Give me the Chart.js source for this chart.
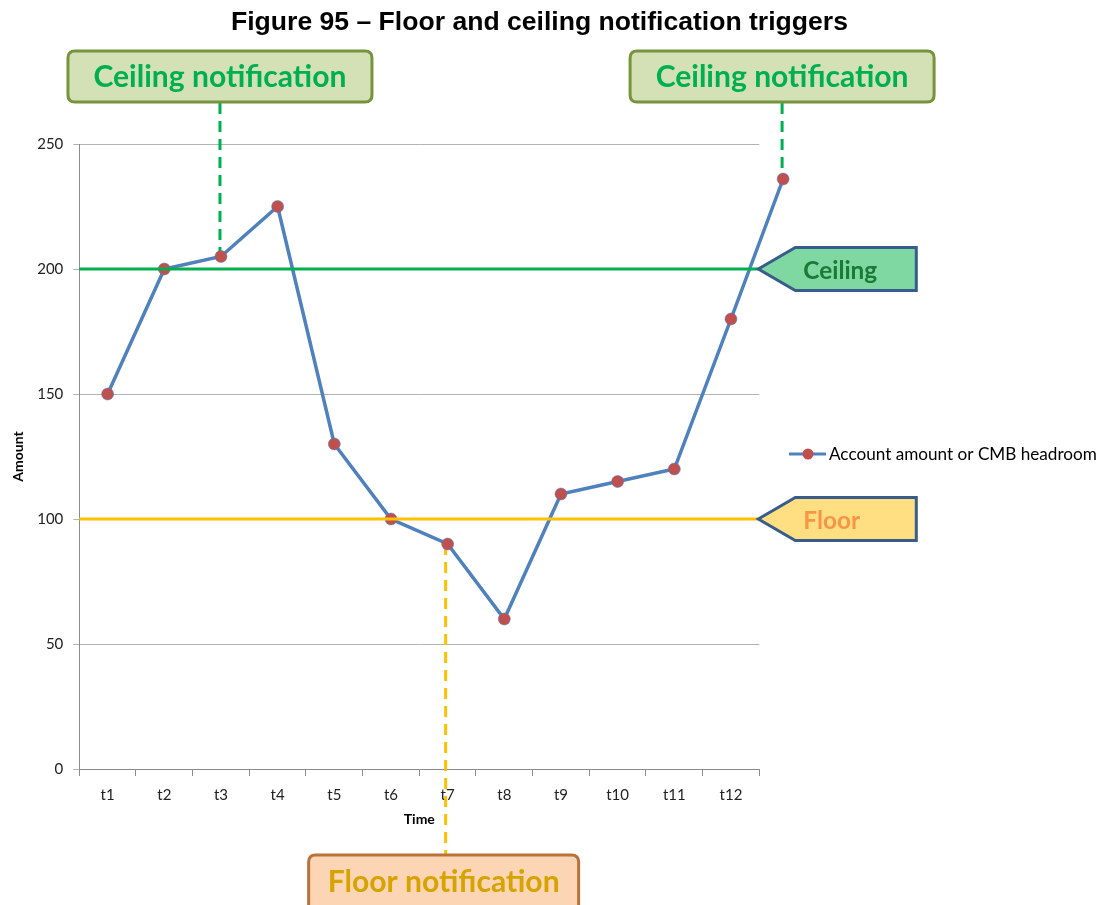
<!DOCTYPE html>
<html>
<head>
<meta charset="utf-8">
<script src="https://cdn.jsdelivr.net/npm/chart.js@4.4.1/dist/chart.umd.min.js"></script>
<style>
  html, body { margin: 0; padding: 0; background: #fff; }
  #wrap { width: 1102px; height: 905px; }
</style>
</head>
<body>
<div id="wrap"><canvas id="chart" width="1102" height="905"></canvas></div>
<script>
'use strict';
// data
const times = ['t1', 't2', 't3', 't4', 't5', 't6', 't7', 't8', 't9', 't10', 't11', 't12'];
const amounts = [150, 200, 205, 225, 130, 100, 90, 60, 110, 115, 120, 180, 236];
const amountPos = [1, 2, 3, 4, 5, 6, 7, 8, 9, 10, 11, 12, 12.92]; // last point sits past t12
const yTicks = [0, 50, 100, 150, 200, 250];
const CEILING = 200;
const FLOOR = 100;
const seriesName = 'Account amount or CMB headroom';
const titleText = 'Figure 95 \u2013 Floor and ceiling notification triggers';
const notifications = [
    { text: 'Ceiling notification', point: 2, kind: 'ceiling' },
    { text: 'Ceiling notification', point: 12, kind: 'ceiling' },
    { text: 'Floor notification', point: 6, kind: 'floor' }
];

const BLUE = '#4f81bd', RED = '#c0504d', GREEN = '#00b050', GOLD = '#ffc000';
const LATO = 'Lato, "Open Sans", sans-serif';

function fitFont(ctx, text, weight, family, width) {
    ctx.font = `${weight} 100px ${family}`;
    const w = ctx.measureText(text).width;
    return `${weight} ${(100 * width / w).toFixed(2)}px ${family}`;
}

function roundRect(ctx, x, y, w, h, r) {
    ctx.beginPath();
    ctx.moveTo(x + r, y);
    ctx.lineTo(x + w - r, y);
    ctx.quadraticCurveTo(x + w, y, x + w, y + r);
    ctx.lineTo(x + w, y + h - r);
    ctx.quadraticCurveTo(x + w, y + h, x + w - r, y + h);
    ctx.lineTo(x + r, y + h);
    ctx.quadraticCurveTo(x, y + h, x, y + h - r);
    ctx.lineTo(x, y + r);
    ctx.quadraticCurveTo(x, y, x + r, y);
    ctx.closePath();
}

function arrowTag(ctx, tipX, tipY, label, fill, textColor, font) {
    const body = 37, len = 158, half = 21.5;
    ctx.save();
    ctx.beginPath();
    ctx.moveTo(tipX, tipY);
    ctx.lineTo(tipX + body, tipY - half);
    ctx.lineTo(tipX + len, tipY - half);
    ctx.lineTo(tipX + len, tipY + half);
    ctx.lineTo(tipX + body, tipY + half);
    ctx.closePath();
    ctx.fillStyle = fill;
    ctx.fill();
    ctx.lineWidth = 3;
    ctx.lineJoin = 'miter';
    ctx.strokeStyle = '#385d8a';
    ctx.stroke();
    ctx.fillStyle = textColor;
    ctx.font = font;
    ctx.textAlign = 'left';
    ctx.textBaseline = 'middle';
    ctx.fillText(label, tipX + 45, tipY + 2);
    ctx.restore();
}

const annotations = {
    id: 'annotations',
    beforeDatasetsDraw(chart) {
        // dashed pointer lines from the notification boxes to the points
        const { ctx } = chart;
        const xs = chart.scales.x2, ys = chart.scales.y;
        ctx.save();
        ctx.lineWidth = 3;
        ctx.setLineDash([11, 7]);
        notifications.forEach(n => {
            const px = xs.getPixelForValue(amountPos[n.point]);
            const py = ys.getPixelForValue(amounts[n.point]);
            ctx.beginPath();
            if (n.kind === 'ceiling') {
                ctx.strokeStyle = GREEN;
                ctx.moveTo(px - 1, 103);
                ctx.lineTo(px - 1, py);
            } else {
                ctx.strokeStyle = GOLD;
                ctx.moveTo(px - 2, py);
                ctx.lineTo(px - 2, 855);
            }
            ctx.stroke();
        });
        ctx.restore();
    },
    afterDatasetsDraw(chart) {
        const { ctx, chartArea } = chart;
        const ys = chart.scales.y;
        const tip = chartArea.right - 1;

        // Chart.js skips point markers outside the chart area; draw those elements here
        chart.getDatasetMeta(0).data.forEach(pt => {
            if (pt.x > chartArea.right) pt.draw(ctx);
        });

        ctx.save();
        ctx.lineWidth = 3;
        [[CEILING, GREEN], [FLOOR, GOLD]].forEach(([v, col]) => {
            const y = ys.getPixelForValue(v);
            ctx.strokeStyle = col;
            ctx.beginPath();
            ctx.moveTo(chartArea.left, y);
            ctx.lineTo(tip, y);
            ctx.stroke();
        });
        const tagFont = fitFont(ctx, 'Ceiling', 'bold', LATO, 74);
        ctx.restore();
        arrowTag(ctx, tip, ys.getPixelForValue(CEILING), 'Ceiling', '#7fd7a1', '#1b7a36', tagFont);
        arrowTag(ctx, tip, ys.getPixelForValue(FLOOR), 'Floor', '#ffdf82', '#f79646', tagFont);
    },
    afterDraw(chart) {
        const { ctx } = chart;
        const xs = chart.scales.x2;

        // notification boxes
        notifications.forEach(n => {
            const cx = xs.getPixelForValue(amountPos[n.point]);
            ctx.save();
            let w, h, y, fill, stroke, color, textW;
            if (n.kind === 'ceiling') {
                w = 304; h = 51; y = 51;
                fill = '#d4e1b6'; stroke = '#77933c'; color = GREEN; textW = 253;
            } else {
                w = 270; h = 62; y = 855;
                fill = '#fcd5b5'; stroke = '#b8733a'; color = '#d6a300'; textW = 232;
            }
            const x = cx - w / 2 - (n.kind === 'floor' ? 4 : 1);
            roundRect(ctx, x, y, w, h, 7);
            ctx.fillStyle = fill;
            ctx.fill();
            ctx.lineWidth = 3;
            ctx.strokeStyle = stroke;
            ctx.stroke();
            ctx.fillStyle = color;
            ctx.font = fitFont(ctx, n.text, 'bold', LATO, textW);
            ctx.textAlign = 'center';
            ctx.textBaseline = 'middle';
            ctx.fillText(n.text, x + w / 2, n.kind === 'ceiling' ? y + h / 2 + 1 : 882);
            ctx.restore();
        });

        // title
        ctx.save();
        ctx.fillStyle = '#000';
        ctx.font = fitFont(ctx, titleText, 'bold', '"Liberation Sans", Arial, sans-serif', 617);
        ctx.textAlign = 'left';
        ctx.textBaseline = 'middle';
        ctx.fillText(titleText, 231, 23);

        // legend
        const ly = 454;
        ctx.strokeStyle = BLUE;
        ctx.lineWidth = 3;
        ctx.beginPath();
        ctx.moveTo(789, ly);
        ctx.lineTo(826, ly);
        ctx.stroke();
        ctx.beginPath();
        ctx.arc(808, ly, 5.5, 0, Math.PI * 2);
        ctx.fillStyle = RED;
        ctx.fill();
        ctx.fillStyle = '#000';
        ctx.font = fitFont(ctx, seriesName, 'normal', LATO, 268);
        ctx.textBaseline = 'middle';
        ctx.fillText(seriesName, 829, ly);
        ctx.restore();
    }
};

new Chart(document.getElementById('chart'), {
    type: 'line',
    data: {
        labels: times,
        datasets: [{
            label: seriesName,
            xAxisID: 'x2',
            yAxisID: 'y',
            data: amounts.map((v, i) => ({ x: amountPos[i], y: v })),
            borderColor: BLUE,
            borderWidth: 3.5,
            pointRadius: 6,
            pointBackgroundColor: RED,
            pointBorderColor: 'rgba(79,129,189,0.55)',
            pointBorderWidth: 1,
            tension: 0,
            clip: false
        }]
    },
    options: {
        responsive: false,
        animation: false,
        events: [],
        layout: { padding: { left: 6, right: 342.7, top: 144, bottom: 73 } },
        plugins: {
            legend: { display: false },
            title: { display: false },
            tooltip: { enabled: false }
        },
        scales: {
            x: {
                type: 'category',
                offset: true,
                afterFit: s => { s.height = 63; },
                grid: {
                    offset: true,
                    drawOnChartArea: false,
                    drawTicks: true,
                    tickLength: 7,
                    color: '#8c8c8c'
                },
                border: { color: '#8c8c8c' },
                ticks: { color: '#222', font: { family: LATO, size: 15 }, padding: 10, maxRotation: 0 },
                title: { display: true, text: 'Time', color: '#000', font: { family: LATO, size: 14, weight: 'bold' }, padding: 4 }
            },
            x2: {
                type: 'linear',
                display: false,
                bounds: 'data',
                // range matches the category slots; set here so the point past t12 is still drawn
                afterDataLimits: s => { s.min = 0.5; s.max = 12.5; },
                afterBuildTicks: s => { s.min = 0.5; s.max = 12.5; }
            },
            y: {
                min: 0,
                max: 250,
                afterFit: s => { s.width = 73.3; },
                afterBuildTicks: s => { s.ticks = yTicks.map(v => ({ value: v })); },
                grid: { color: '#b3b3b3', tickLength: 6 },
                border: { color: '#8c8c8c' },
                ticks: { color: '#222', font: { family: LATO, size: 15 }, padding: 10 },
                title: { display: true, text: 'Amount', color: '#000', font: { family: LATO, size: 14, weight: 'bold' }, padding: 4 }
            }
        }
    },
    plugins: [annotations]
});
</script>
</body>
</html>
